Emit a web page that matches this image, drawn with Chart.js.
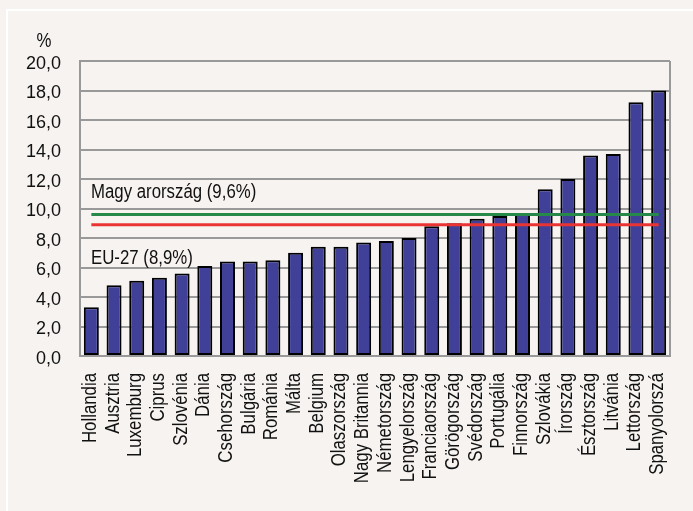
<!DOCTYPE html>
<html>
<head>
<meta charset="utf-8">
<script src="https://cdn.jsdelivr.net/npm/chart.js@4"></script>
<style>
  html, body { margin: 0; padding: 0; background: #f6f3f0; }
  canvas { display: block; }
</style>
</head>
<body>
<canvas id="chart" width="693" height="511"></canvas>
<script>
const countries = [
  'Hollandia', 'Ausztria', 'Luxemburg', 'Ciprus', 'Szlovénia', 'Dánia',
  'Csehország', 'Bulgária', 'Románia', 'Málta', 'Belgium', 'Olaszország',
  'Nagy Britannia', 'Németország', 'Lengyelország', 'Franciaország',
  'Görögország', 'Svédország', 'Portugália', 'Finnország', 'Szlovákia',
  'Írország', 'Észtország', 'Litvánia', 'Lettország', 'Spanyolorszá'
];
const rates = [
  3.3, 4.8, 5.1, 5.3, 5.6, 6.1, 6.4, 6.4, 6.5, 7.0, 7.4, 7.4, 7.7, 7.8,
  8.0, 8.8, 9.0, 9.3, 9.5, 9.7, 11.3, 12.0, 13.6, 13.7, 17.2, 18.0
];
const huRate = 9.6;
const euRate = 8.9;
const huLabel = 'Magy arország (9,6%)';
const euLabel = 'EU-27 (8,9%)';

const font = '"Liberation Sans", Arial, sans-serif';
const narrow = 0.84; // the original uses a condensed face

// condensed text, drawn by hand
function narrowText(ctx, text, x, y, rot, align) {
  ctx.save();
  ctx.translate(x, y);
  if (rot) ctx.rotate(rot);
  ctx.scale(narrow, 1);
  ctx.textAlign = align;
  ctx.fillText(text, 0, 0);
  ctx.restore();
}

const frame = {
  id: 'frame',
  beforeDraw(chart) {
    const ctx = chart.ctx;
    ctx.save();
    ctx.fillStyle = '#f6f3f0';
    ctx.fillRect(0, 0, chart.width, chart.height);
    ctx.strokeStyle = '#ffffff';
    ctx.lineWidth = 2;
    ctx.beginPath();
    ctx.moveTo(chart.width, 10);
    ctx.lineTo(7, 10);
    ctx.lineTo(7, chart.height);
    ctx.stroke();
    ctx.restore();
  },
  afterDraw(chart) {
    const { ctx, chartArea, scales } = chart;
    ctx.save();
    // right border of plot
    ctx.strokeStyle = '#999999';
    ctx.lineWidth = 2;
    ctx.beginPath();
    ctx.moveTo(chartArea.right, chartArea.top);
    ctx.lineTo(chartArea.right, chartArea.bottom);
    ctx.stroke();

    ctx.fillStyle = '#111';
    ctx.font = '20px ' + font;
    ctx.textBaseline = 'middle';
    narrowText(ctx, '%', 44, 41, 0, 'center');

    // category labels
    const x = scales.x;
    countries.forEach((c, i) => {
      narrowText(ctx, c, x.getPixelForTick(i) - 1, chartArea.bottom + 17, -Math.PI / 2, 'right');
    });

    ctx.textBaseline = 'alphabetic';
    const y = scales.y;
    narrowText(ctx, huLabel, chartArea.left + 11, y.getPixelForValue(huRate) - 16, 0, 'left');
    narrowText(ctx, euLabel, chartArea.left + 11, y.getPixelForValue(euRate) + 39, 0, 'left');
    ctx.restore();
  }
};

new Chart(document.getElementById('chart'), {
  type: 'bar',
  data: {
    labels: countries,
    datasets: [
      {
        type: 'line',
        data: countries.map(() => huRate),
        borderColor: '#26894a',
        borderWidth: 3,
        pointRadius: 0,
        order: 0
      },
      {
        type: 'line',
        data: countries.map(() => euRate),
        borderColor: '#ea3434',
        borderWidth: 3,
        pointRadius: 0,
        order: 0
      },
      {
        data: rates,
        backgroundColor: '#404098',
        borderColor: '#000000',
        borderWidth: 2,
        borderSkipped: false,
        barPercentage: 0.66,
        categoryPercentage: 1,
        order: 1
      }
    ]
  },
  options: {
    responsive: false,
    animation: false,
    layout: { padding: { top: 61, right: 23, left: 0, bottom: 0 } },
    plugins: { legend: { display: false }, tooltip: { enabled: false } },
    scales: {
      x: {
        grid: { display: false },
        border: { color: '#999999', width: 2 },
        ticks: { display: false },
        afterFit(s) { s.height = 155; }
      },
      y: {
        min: 0,
        max: 20,
        ticks: {
          stepSize: 2,
          color: '#111',
          font: { family: font, size: 18 },
          padding: 19,
          labelOffset: 3,
          callback: v => v.toFixed(1).replace('.', ',')
        },
        grid: { color: '#999999', lineWidth: 2, drawTicks: false },
        border: { color: '#999999', width: 2 },
        afterFit(s) { s.width = 80; }
      }
    }
  },
  plugins: [frame]
});
</script>
</body>
</html>
